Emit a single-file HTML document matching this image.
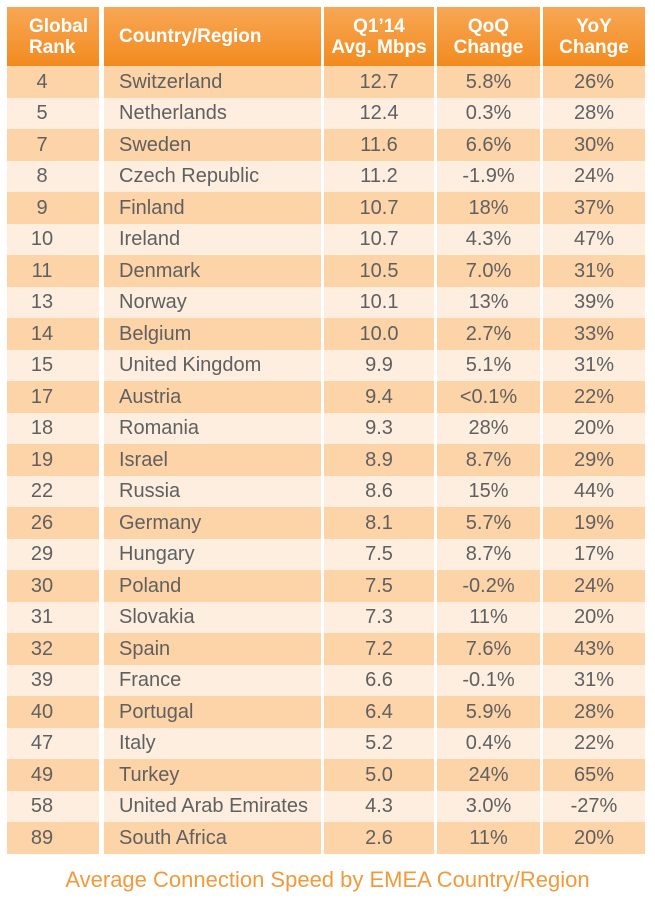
<!DOCTYPE html>
<html><head><meta charset="utf-8"><style>
body{margin:0;width:655px;height:900px;background:#fff;font-family:"Liberation Sans Narrow","Liberation Sans",sans-serif;position:relative;overflow:hidden}
.c{position:absolute;box-sizing:border-box;color:#606060;font-size:20px;display:flex;align-items:center;justify-content:center;white-space:nowrap}
.h{background:linear-gradient(#f8a755,#f28b1f);color:#fff;font-weight:bold;font-size:19px;line-height:21px;text-align:center}
.l{justify-content:flex-start;padding-left:15px}
#cap{position:absolute;left:0;width:655px;top:867px;text-align:center;color:#f29a3a;font-size:22px}
</style></head><body>
<div id="t"></div>
<div id="cap">Average Connection Speed by EMEA Country/Region</div>
<script>
const ranks=[4,5,7,8,9,10,11,13,14,15,17,18,19,22,26,29,30,31,32,39,40,47,49,58,89];
const countries=["Switzerland","Netherlands","Sweden","Czech Republic","Finland","Ireland","Denmark","Norway","Belgium","United Kingdom","Austria","Romania","Israel","Russia","Germany","Hungary","Poland","Slovakia","Spain","France","Portugal","Italy","Turkey","United Arab Emirates","South Africa"];
const speeds=["12.7","12.4","11.6","11.2","10.7","10.7","10.5","10.1","10.0","9.9","9.4","9.3","8.9","8.6","8.1","7.5","7.5","7.3","7.2","6.6","6.4","5.2","5.0","4.3","2.6"];
const qoq=["5.8%","0.3%","6.6%","-1.9%","18%","4.3%","7.0%","13%","2.7%","5.1%","<0.1%","28%","8.7%","15%","5.7%","8.7%","-0.2%","11%","7.6%","-0.1%","5.9%","0.4%","24%","3.0%","11%"];
const yoy=["26%","28%","30%","24%","37%","47%","31%","39%","33%","31%","22%","20%","29%","44%","19%","17%","24%","20%","43%","31%","28%","22%","65%","-27%","20%"];
const headers=["Global<br>Rank","Country/Region","Q1\u201914<br>Avg. Mbps","QoQ<br>Change","YoY<br>Change"];
const cols=[[7,99],[104,321],[324,434],[437,540],[543,645]];
const t=document.getElementById('t');
const top0=66,rh=31.5;
headers.forEach((h,i)=>{
 const d=document.createElement('div');
 d.className='c h'+(i==1?' l':'');
 
 
 d.style.cssText=`left:${cols[i][0]}px;width:${cols[i][1]-cols[i][0]}px;top:7px;height:${top0-7}px;`+(i==0?'justify-content:flex-start;padding-left:22px;text-align:left':'');
 d.innerHTML=h;t.appendChild(d);
});
ranks.forEach((r,k)=>{
 const vals=[r,countries[k],speeds[k],qoq[k],yoy[k]];
 vals.forEach((v,i)=>{
  const d=document.createElement('div');
  d.className='c'+(i==1?' l':'');
  
  
  d.style.cssText=`left:${cols[i][0]}px;width:${cols[i][1]-cols[i][0]}px;top:${top0+k*rh}px;height:${rh+0.5}px;background:${k%2?'#fdeee0':'#fdd4a8'};`+(i==0?'padding-right:22px':'');
  d.textContent=v;t.appendChild(d);
 });
});
</script>
</body></html>
